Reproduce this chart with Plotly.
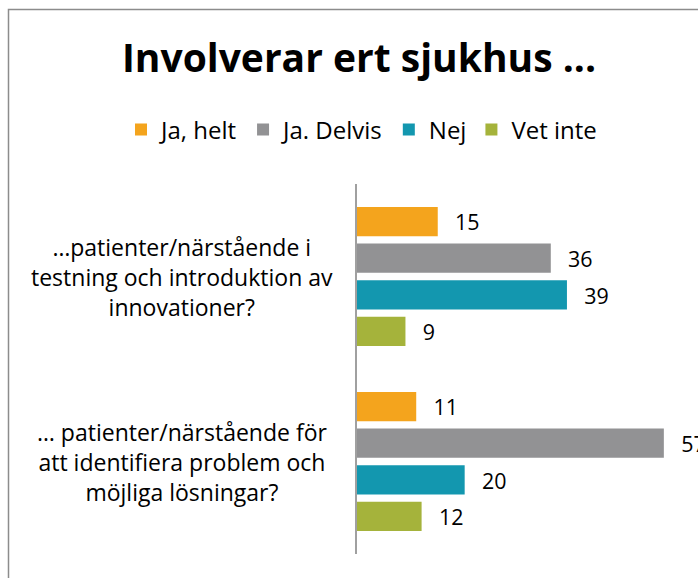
import plotly.graph_objects as go

categories = [
    "…patienter/närstående i<br>testning och introduktion av<br>innovationer?",
    "… patienter/närstående för<br>att identifiera problem och<br>möjliga lösningar?",
]
series_names = ["Ja, helt", "Ja. Delvis", "Nej", "Vet inte"]
ja_helt = [15, 11]
ja_delvis = [36, 57]
nej = [39, 20]
vet_inte = [9, 12]
colors = ["#F4A41D", "#929294", "#1397AF", "#A5B33B"]
title_text = "Involverar ert sjukhus ..."

W, H = 698, 578
L, R, T, B = 357, 680, 184, 554
PW, PH = R - L, B - T
FONT = "Open Sans"

def px_x(px):
    return (px - L) / PW

def px_y(py):
    return (B - py) / PH

fig = go.Figure()
for name, vals, col in zip(series_names, [ja_helt, ja_delvis, nej, vet_inte], colors):
    fig.add_trace(go.Bar(
        name=name, y=categories, x=vals, orientation="h",
        marker=dict(color=col, line=dict(width=0)),
        text=vals, texttemplate="\u2002\u2009%{text}", textposition="outside",
        textfont=dict(family=FONT, size=22, color="#000000"),
        cliponaxis=False,
    ))

for cat in categories:
    fig.add_annotation(
        x=px_x(182), xref="paper", y=cat, yref="y",
        text=cat, showarrow=False, xanchor="center", yanchor="middle",
        align="center", font=dict(family=FONT, size=23, color="#000000"),
    )

# outer chart border (partially cropped)
fig.add_shape(
    type="path", xref="paper", yref="paper",
    path=f"M {px_x(8.5)} {px_y(620)} L {px_x(8.5)} {px_y(9.5)} L {px_x(720)} {px_y(9.5)}",
    line=dict(color="#8C8C8C", width=1.5),
)

fig.update_layout(
    width=W, height=H,
    margin=dict(l=L, r=W - R, t=T, b=H - B, pad=0),
    paper_bgcolor="white", plot_bgcolor="white",
    barmode="group", bargap=0.21, bargroupgap=0.2,
    title=dict(text=f"<b>{title_text}</b>", x=359 / W, xanchor="center",
               xref="container", yref="container", y=1 - 58 / H, yanchor="middle",
               font=dict(family=FONT, size=39, color="#000000")),
    legend=dict(orientation="h", xref="paper", yref="paper",
                x=px_x(121), xanchor="left", y=px_y(130), yanchor="middle",
                font=dict(family=FONT, size=24, color="#000000"),
                traceorder="normal", bgcolor="rgba(0,0,0,0)"),
    xaxis=dict(range=[0, 60], visible=False, showgrid=False, zeroline=False),
    yaxis=dict(autorange="reversed", showticklabels=False, ticks="",
               showline=True, linecolor="#A0A0A0", linewidth=1.5, showgrid=False),
    font=dict(family=FONT),
)

fig.write_html("out.html", config={"displayModeBar": False},
               post_script="document.body.style.margin='0';document.body.style.overflow='hidden';")
